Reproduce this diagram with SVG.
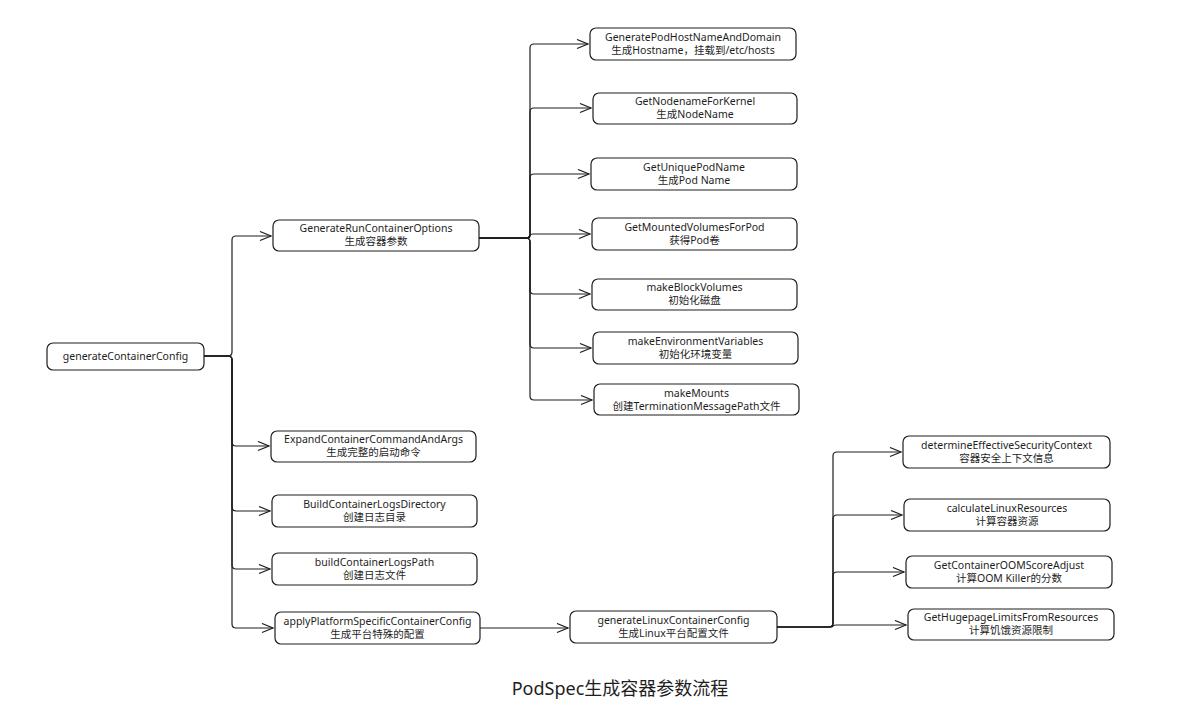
<svg xmlns="http://www.w3.org/2000/svg" width="1191" height="704" viewBox="0 0 1191 704">
<style>
.box{fill:#fff;stroke:#1e1e1e;stroke-width:1.2}
.t{font-family:"Noto Sans","Noto Sans CJK SC",sans-serif;font-size:10.5px;fill:#1e1e1e;text-anchor:middle}
.c{fill:none;stroke:#1e1e1e;stroke-width:1.2;marker-end:url(#ah)}
.title{font-family:"Noto Sans","Noto Sans CJK SC",sans-serif;font-size:18px;fill:#1e1e1e;text-anchor:middle}
</style>
<defs>
<marker id="ah" markerUnits="userSpaceOnUse" markerWidth="14" markerHeight="12" refX="12" refY="5" orient="auto">
<path d="M1,0.5 L12,5 L1,9.5" fill="none" stroke="#1e1e1e" stroke-width="1.2"/>
</marker>
</defs>
<rect width="1191" height="704" fill="#fff"/>
<g id="connectors">
<path class="c" d="M204 356 H228 Q232 356 232 352 V240 Q232 236 236 236 H271"/>
<path class="c" d="M204 356 H228 Q232 356 232 360 V442 Q232 446 236 446 H269"/>
<path class="c" d="M204 356 H228 Q232 356 232 360 V507 Q232 511 236 511 H270"/>
<path class="c" d="M204 356 H228 Q232 356 232 360 V565 Q232 569 236 569 H270"/>
<path class="c" d="M204 356 H228 Q232 356 232 360 V624 Q232 628 236 628 H273"/>
<path class="c" d="M479 238 H526 Q530 238 530 234 V48 Q530 44 534 44 H588"/>
<path class="c" d="M479 238 H526 Q530 238 530 234 V112 Q530 108 534 108 H591"/>
<path class="c" d="M479 238 H526 Q530 238 530 234 V178 Q530 174 534 174 H589"/>
<path class="c" d="M479 238 H527 Q530 238 530 236 Q530 234 533 234 H590"/>
<path class="c" d="M479 238 H526 Q530 238 530 242 V290 Q530 294 534 294 H590"/>
<path class="c" d="M479 238 H526 Q530 238 530 242 V344 Q530 348 534 348 H591"/>
<path class="c" d="M479 238 H526 Q530 238 530 242 V396 Q530 400 534 400 H592"/>
<path class="c" d="M480 628 H568"/>
<path class="c" d="M777 627 H829 Q833 627 833 623 V456 Q833 452 837 452 H901"/>
<path class="c" d="M777 627 H829 Q833 627 833 623 V519 Q833 515 837 515 H902"/>
<path class="c" d="M777 627 H829 Q833 627 833 623 V576 Q833 572 837 572 H904"/>
<path class="c" d="M777 627 H830 Q833 627 833 626 Q833 625 836 625 H906"/>
</g>
<g id="n-generateContainerConfig"><rect class="box" x="47" y="343" width="157" height="27" rx="6"/><text class="t" x="125.5" y="360">generateContainerConfig</text></g>
<g id="n-GenerateRunContainerOptions"><rect class="box" x="273" y="220" width="206" height="31" rx="6"/><text class="t" x="376" y="232">GenerateRunContainerOptions</text><text class="t" x="376" y="245">生成容器参数</text></g>
<g id="n-GeneratePodHostNameAndDomain"><rect class="box" x="590" y="28" width="206" height="32" rx="6"/><text class="t" x="693" y="41">GeneratePodHostNameAndDomain</text><text class="t" x="693" y="54">生成Hostname，挂载到/etc/hosts</text></g>
<g id="n-GetNodenameForKernel"><rect class="box" x="593" y="93" width="204" height="31" rx="6"/><text class="t" x="695" y="105">GetNodenameForKernel</text><text class="t" x="695" y="118">生成NodeName</text></g>
<g id="n-GetUniquePodName"><rect class="box" x="591" y="158" width="206" height="32" rx="6"/><text class="t" x="694" y="171">GetUniquePodName</text><text class="t" x="694" y="184">生成Pod Name</text></g>
<g id="n-GetMountedVolumesForPod"><rect class="box" x="592" y="218" width="205" height="32" rx="6"/><text class="t" x="694.5" y="231">GetMountedVolumesForPod</text><text class="t" x="694.5" y="244">获得Pod卷</text></g>
<g id="n-makeBlockVolumes"><rect class="box" x="592" y="279" width="205" height="31" rx="6"/><text class="t" x="694.5" y="291">makeBlockVolumes</text><text class="t" x="694.5" y="304">初始化磁盘</text></g>
<g id="n-makeEnvironmentVariables"><rect class="box" x="593" y="332" width="205" height="32" rx="6"/><text class="t" x="695.5" y="345">makeEnvironmentVariables</text><text class="t" x="695.5" y="358">初始化环境变量</text></g>
<g id="n-makeMounts"><rect class="box" x="594" y="384" width="205" height="31" rx="6"/><text class="t" x="696.5" y="397">makeMounts</text><text class="t" x="696.5" y="410">创建TerminationMessagePath文件</text></g>
<g id="n-ExpandContainerCommandAndArgs"><rect class="box" x="271" y="431" width="205" height="31" rx="6"/><text class="t" x="373.5" y="443">ExpandContainerCommandAndArgs</text><text class="t" x="373.5" y="456">生成完整的启动命令</text></g>
<g id="n-BuildContainerLogsDirectory"><rect class="box" x="272" y="495" width="205" height="32" rx="6"/><text class="t" x="374.5" y="508">BuildContainerLogsDirectory</text><text class="t" x="374.5" y="521">创建日志目录</text></g>
<g id="n-buildContainerLogsPath"><rect class="box" x="272" y="553" width="205" height="32" rx="6"/><text class="t" x="374.5" y="566">buildContainerLogsPath</text><text class="t" x="374.5" y="579">创建日志文件</text></g>
<g id="n-applyPlatformSpecificContainerConfig"><rect class="box" x="275" y="612" width="205" height="32" rx="6"/><text class="t" x="377.5" y="625">applyPlatformSpecificContainerConfig</text><text class="t" x="377.5" y="638">生成平台特殊的配置</text></g>
<g id="n-generateLinuxContainerConfig"><rect class="box" x="570" y="611" width="207" height="32" rx="6"/><text class="t" x="673.5" y="624">generateLinuxContainerConfig</text><text class="t" x="673.5" y="637">生成Linux平台配置文件</text></g>
<g id="n-determineEffectiveSecurityContext"><rect class="box" x="903" y="436" width="207" height="32" rx="6"/><text class="t" x="1006.5" y="449">determineEffectiveSecurityContext</text><text class="t" x="1006.5" y="462">容器安全上下文信息</text></g>
<g id="n-calculateLinuxResources"><rect class="box" x="904" y="499" width="206" height="32" rx="6"/><text class="t" x="1007" y="512">calculateLinuxResources</text><text class="t" x="1007" y="525">计算容器资源</text></g>
<g id="n-GetContainerOOMScoreAdjust"><rect class="box" x="906" y="556" width="206" height="32" rx="6"/><text class="t" x="1009" y="569">GetContainerOOMScoreAdjust</text><text class="t" x="1009" y="582">计算OOM Killer的分数</text></g>
<g id="n-GetHugepageLimitsFromResources"><rect class="box" x="908" y="609" width="206" height="31" rx="6"/><text class="t" x="1011" y="621">GetHugepageLimitsFromResources</text><text class="t" x="1011" y="634">计算饥饿资源限制</text></g>
<g id="title"><text class="title" x="620" y="695">PodSpec生成容器参数流程</text></g>
</svg>
